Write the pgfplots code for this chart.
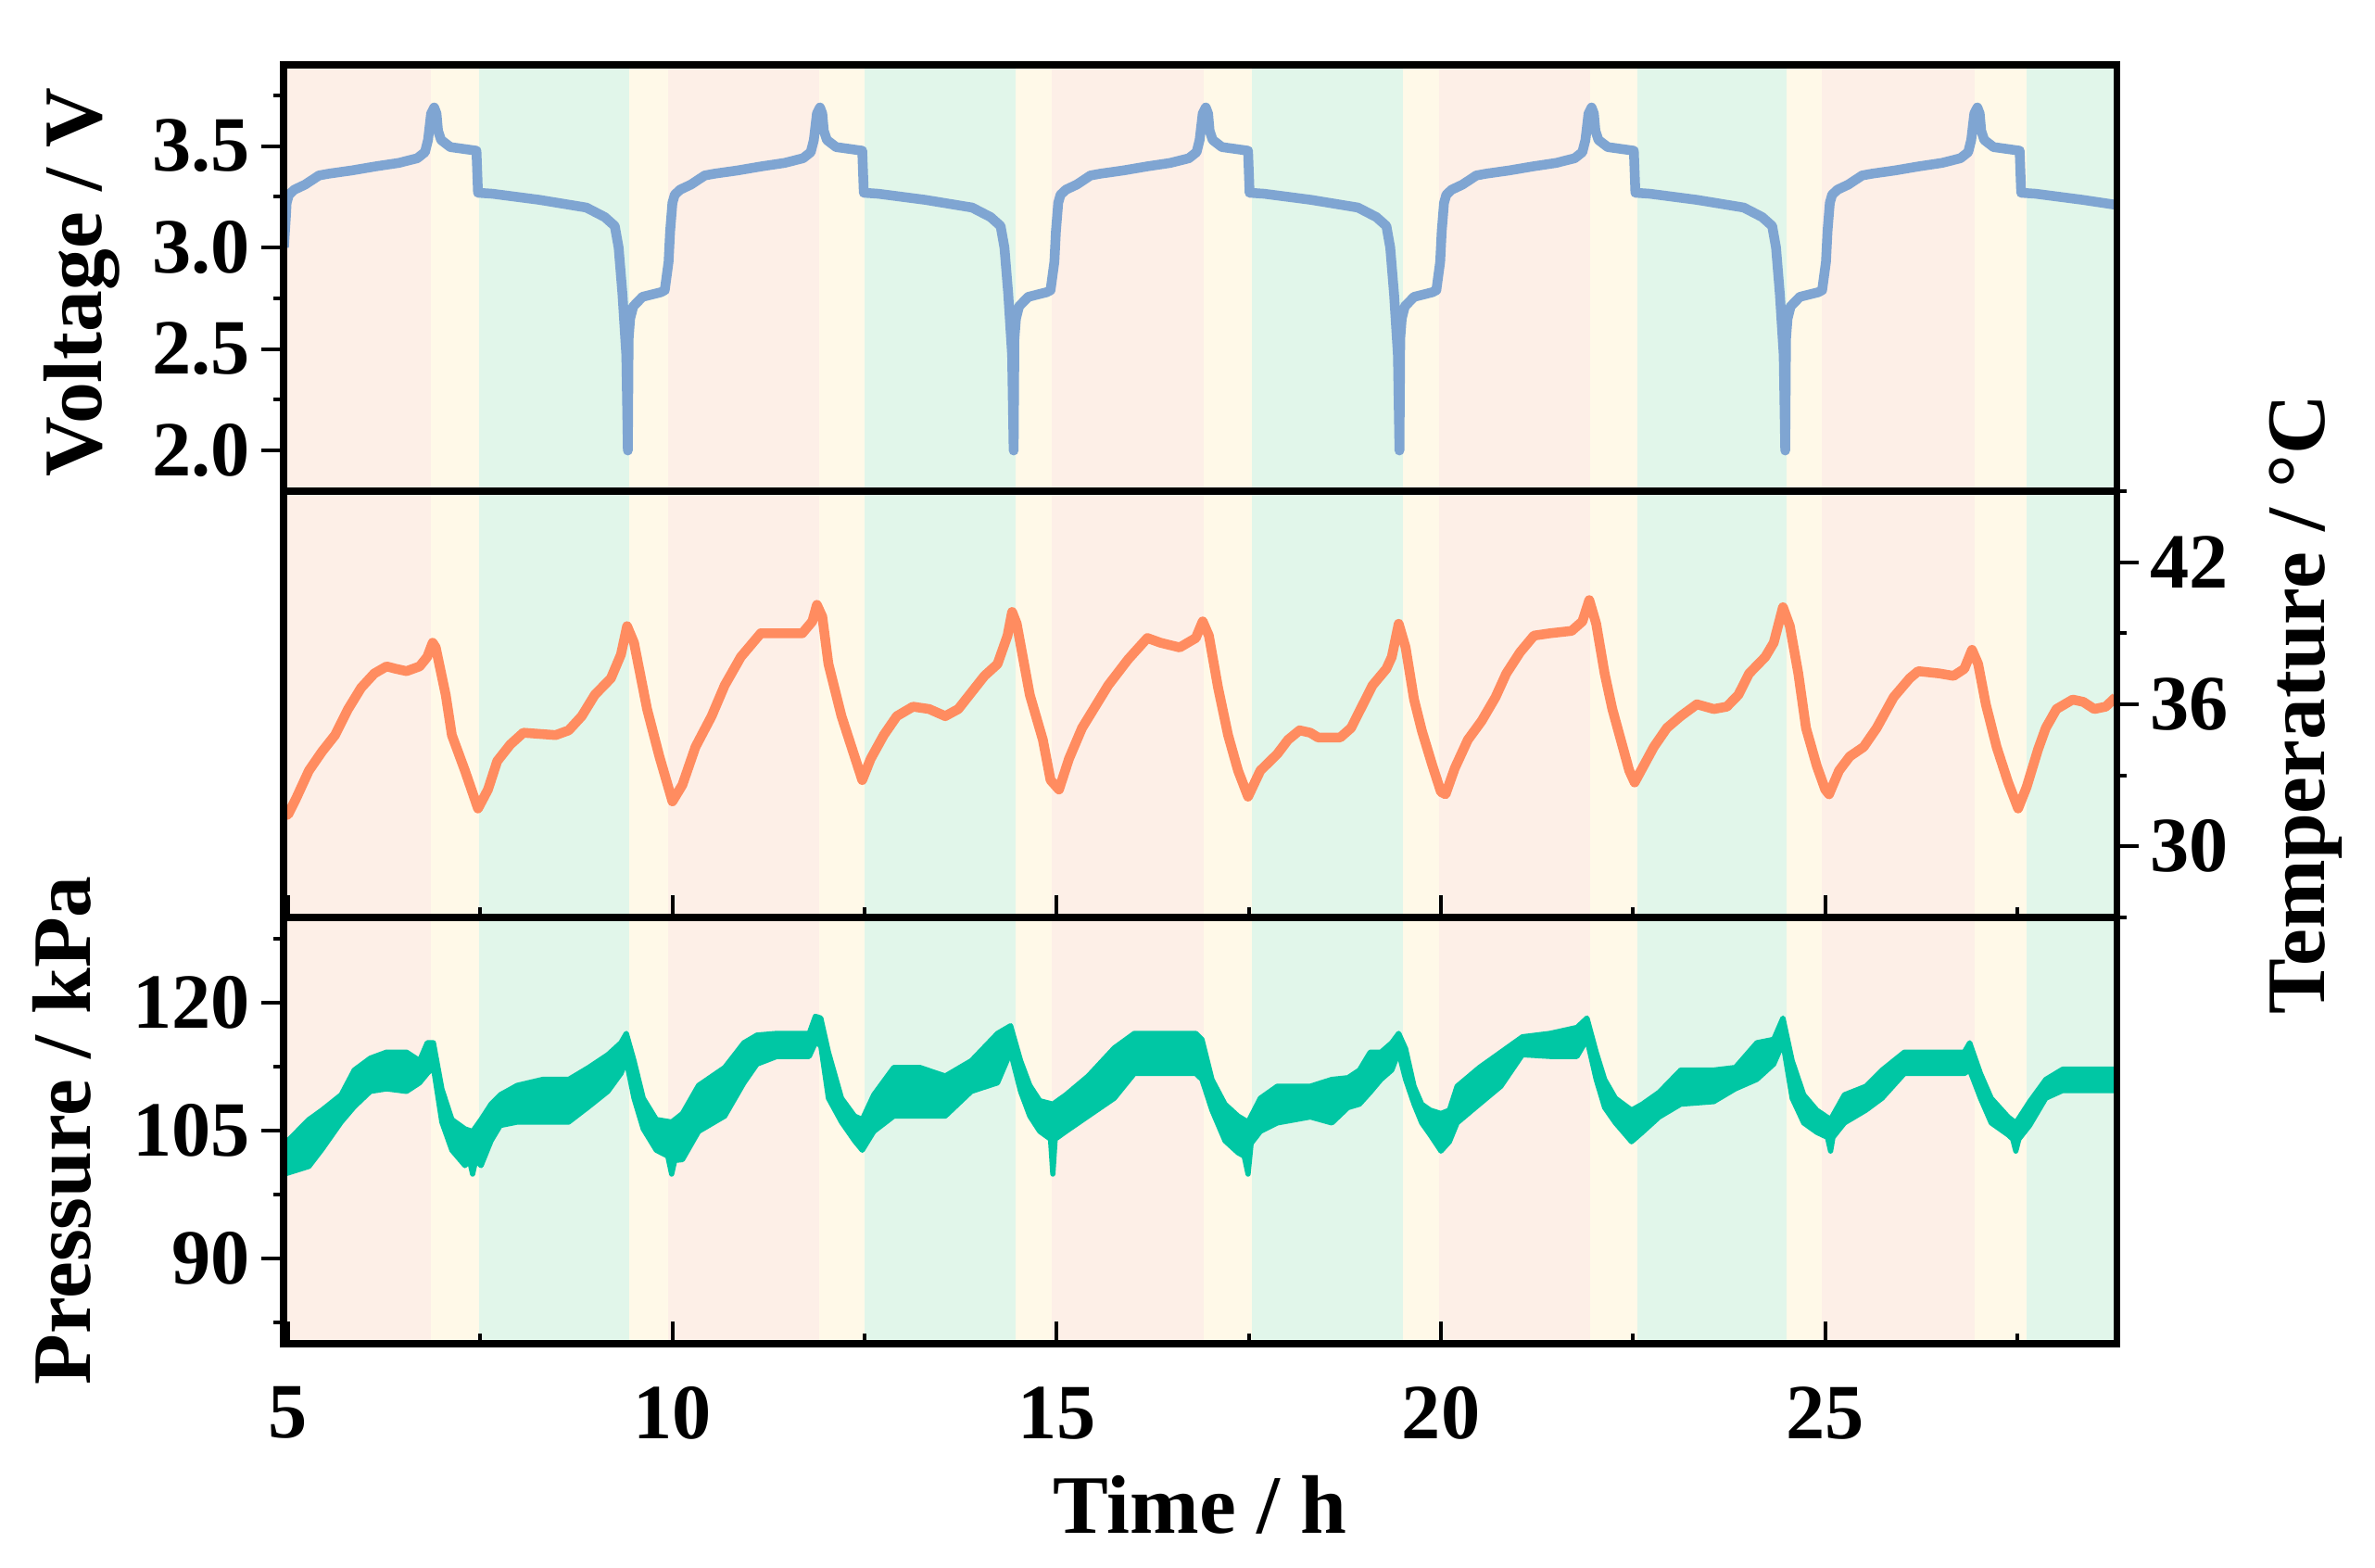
\documentclass[border=0pt]{standalone}
\usepackage{fontspec}
\setmainfont{Liberation Serif}
\usepackage{pgfplots}
\pgfplotsset{compat=1.18}

\definecolor{bgpink}{RGB}{253,239,231}
\definecolor{bgyel}{RGB}{255,249,232}
\definecolor{bggrn}{RGB}{225,246,234}
\definecolor{vblue}{RGB}{127,165,210}
\definecolor{torange}{RGB}{255,140,96}
\definecolor{pteal}{RGB}{0,199,164}

\newcommand{\band}[5]{\addplot[draw=none,fill=#5,forget plot] coordinates {(#1,#3) (#2,#3) (#2,#4) (#1,#4)} -- cycle;}
\newcommand{\allbands}[2]{%
 \band{4.90}{6.86}{#1}{#2}{bgpink}
 \band{6.86}{7.48}{#1}{#2}{bgyel}
 \band{7.48}{9.44}{#1}{#2}{bggrn}
 \band{9.44}{9.94}{#1}{#2}{bgyel}
 \band{9.94}{11.91}{#1}{#2}{bgpink}
 \band{11.91}{12.50}{#1}{#2}{bgyel}
 \band{12.50}{14.46}{#1}{#2}{bggrn}
 \band{14.46}{14.94}{#1}{#2}{bgyel}
 \band{14.94}{16.91}{#1}{#2}{bgpink}
 \band{16.91}{17.54}{#1}{#2}{bgyel}
 \band{17.54}{19.51}{#1}{#2}{bggrn}
 \band{19.51}{19.98}{#1}{#2}{bgyel}
 \band{19.98}{21.94}{#1}{#2}{bgpink}
 \band{21.94}{22.55}{#1}{#2}{bgyel}
 \band{22.55}{24.50}{#1}{#2}{bggrn}
 \band{24.50}{24.96}{#1}{#2}{bgyel}
 \band{24.96}{26.95}{#1}{#2}{bgpink}
 \band{26.95}{27.62}{#1}{#2}{bgyel}
 \band{27.62}{28.85}{#1}{#2}{bggrn}
}

\pgfplotsset{
 panel/.style={
   scale only axis, width=197.8mm, height=46mm,
   xmin=4.94, xmax=28.79,
   axis line style={line width=2pt},
   tick style={line width=1.1pt, black},
   major tick length=2.4mm, minor tick length=1.1mm,
   tick label style={font=\fontsize{24}{28}\selectfont\bfseries},
   label style={font=\fontsize{25.5}{30}\selectfont\bfseries},
   /pgf/number format/assume math mode=true,
   axis on top,
 }
}

\begin{document}
\begin{tikzpicture}
\path[use as bounding box] (0,0) rectangle (256.3mm,169.1mm);

% ---------------- Voltage ----------------
\begin{axis}[panel, at={(30.6mm,116.1mm)}, anchor=south west,
  ymin=1.8, ymax=3.9, ytick={2,2.5,3,3.5}, minor ytick={2.25,2.75,3.25,3.75},
  ytick pos=left, xtick=\empty, ytick align=outside,
  yticklabel style={/pgf/number format/.cd, fixed, fixed zerofill, precision=1},
  ylabel={Voltage / V},
  ylabel style={at={(axis description cs:-0.110,0.49)}, anchor=center}]
\allbands{1.8}{3.9}
\addplot[vblue, line width=3pt, line join=round] coordinates {
(4.945,3.00) (4.97,3.15) (4.98,3.22) (5.01,3.26) (5.08,3.285) (5.22,3.31) (5.40,3.355) (5.53,3.364) (5.83,3.38) (6.14,3.40) (6.44,3.417) (6.68,3.44) (6.78,3.47) (6.82,3.53) (6.86,3.66) (6.90,3.69) (6.93,3.66) (6.95,3.575) (6.99,3.53) (7.11,3.495) (7.30,3.485) (7.45,3.477) (7.47,3.27) (7.66,3.265) (8.27,3.235) (8.88,3.197) (9.12,3.15) (9.25,3.106) (9.30,3.00) (9.35,2.77) (9.40,2.47) (9.42,2.00) (9.43,2.55) (9.45,2.65) (9.49,2.71) (9.61,2.757) (9.85,2.78) (9.90,2.79)
(9.95,2.93) (9.97,3.08) (10.00,3.22) (10.03,3.26) (10.10,3.285) (10.24,3.31) (10.42,3.355) (10.55,3.364) (10.85,3.38) (11.16,3.40) (11.46,3.417) (11.70,3.44) (11.80,3.47) (11.84,3.53) (11.88,3.66) (11.92,3.69) (11.95,3.66) (11.97,3.575) (12.01,3.53) (12.13,3.495) (12.32,3.485) (12.47,3.477) (12.49,3.27) (12.68,3.265) (13.29,3.235) (13.90,3.197) (14.14,3.15) (14.27,3.106) (14.32,3.00) (14.37,2.77) (14.42,2.47) (14.44,2.00) (14.45,2.55) (14.47,2.65) (14.51,2.71) (14.63,2.757) (14.87,2.78) (14.92,2.79)
(14.97,2.93) (14.99,3.08) (15.02,3.22) (15.05,3.26) (15.12,3.285) (15.26,3.31) (15.44,3.355) (15.57,3.364) (15.87,3.38) (16.18,3.40) (16.48,3.417) (16.72,3.44) (16.82,3.47) (16.86,3.53) (16.90,3.66) (16.94,3.69) (16.97,3.66) (16.99,3.575) (17.03,3.53) (17.15,3.495) (17.34,3.485) (17.49,3.477) (17.51,3.27) (17.70,3.265) (18.31,3.235) (18.92,3.197) (19.16,3.15) (19.29,3.106) (19.34,3.00) (19.39,2.77) (19.44,2.47) (19.46,2.00) (19.47,2.55) (19.49,2.65) (19.53,2.71) (19.65,2.757) (19.89,2.78) (19.94,2.79)
(19.99,2.93) (20.01,3.08) (20.04,3.22) (20.07,3.26) (20.14,3.285) (20.28,3.31) (20.46,3.355) (20.59,3.364) (20.89,3.38) (21.20,3.40) (21.50,3.417) (21.74,3.44) (21.84,3.47) (21.88,3.53) (21.92,3.66) (21.96,3.69) (21.99,3.66) (22.01,3.575) (22.05,3.53) (22.17,3.495) (22.36,3.485) (22.51,3.477) (22.53,3.27) (22.72,3.265) (23.33,3.235) (23.94,3.197) (24.18,3.15) (24.31,3.106) (24.36,3.00) (24.41,2.77) (24.46,2.47) (24.48,2.00) (24.49,2.55) (24.51,2.65) (24.55,2.71) (24.67,2.757) (24.91,2.78) (24.96,2.79)
(25.01,2.93) (25.03,3.08) (25.06,3.22) (25.09,3.26) (25.16,3.285) (25.30,3.31) (25.48,3.355) (25.61,3.364) (25.91,3.38) (26.22,3.40) (26.52,3.417) (26.76,3.44) (26.86,3.47) (26.90,3.53) (26.94,3.66) (26.98,3.69) (27.01,3.66) (27.03,3.575) (27.07,3.53) (27.19,3.495) (27.38,3.485) (27.53,3.477) (27.55,3.27) (27.74,3.265) (28.35,3.235) (28.79,3.21)
};
\end{axis}

% ---------------- Temperature ----------------
\begin{axis}[panel, at={(30.6mm,70.1mm)}, anchor=south west,
  ymin=27, ymax=45, ytick={30,36,42}, minor ytick={27,33,39,45},
  ytick pos=right, yticklabel pos=right, ytick align=outside,
  xtick={5,10,15,20,25}, minor xtick={7.5,12.5,17.5,22.5,27.5},
  xtick pos=bottom, xticklabels={}, xtick align=inside,
  ylabel={Temperature / °C},
  ylabel style={at={(axis description cs:1.103,0.5)}, anchor=center}]
\allbands{27}{45}
\addplot[torange, line width=3pt, line join=round] coordinates {
(4.95,31.3) (5.0,31.35) (5.1,32.0) (5.27,33.2) (5.44,34.0) (5.61,34.7) (5.78,35.8) (5.95,36.7) (6.12,37.3) (6.28,37.6) (6.40,37.5) (6.54,37.4) (6.71,37.6) (6.81,38.0) (6.88,38.6) (6.92,38.4) (7.05,36.4) (7.13,34.7) (7.30,33.2) (7.47,31.6) (7.60,32.4) (7.72,33.6) (7.89,34.3) (8.06,34.8) (8.48,34.7) (8.65,34.9) (8.82,35.5) (8.99,36.4) (9.2,37.1) (9.33,38.1) (9.41,39.3) (9.5,38.6) (9.67,35.8) (9.83,33.8) (10.0,31.9) (10.13,32.6) (10.3,34.2) (10.51,35.5) (10.68,36.8) (10.89,38.0) (11.15,39.0) (11.36,39.0) (11.69,39.0) (11.82,39.5) (11.88,40.2) (11.95,39.7) (12.03,37.7) (12.2,35.5) (12.33,34.2) (12.47,32.8) (12.58,33.7) (12.75,34.7) (12.92,35.5) (13.13,35.9) (13.34,35.8) (13.55,35.5) (13.72,35.8) (13.89,36.5) (14.06,37.2) (14.23,37.7) (14.36,38.9) (14.42,39.9) (14.48,39.4) (14.65,36.4) (14.82,34.5) (14.92,32.8) (15.03,32.4) (15.16,33.7) (15.33,35.0) (15.5,35.9) (15.67,36.8) (15.93,37.9) (16.18,38.8) (16.35,38.6) (16.6,38.4) (16.81,38.8) (16.9,39.5) (16.98,38.9) (17.1,36.7) (17.23,34.7) (17.36,33.2) (17.49,32.1) (17.65,33.2) (17.87,33.9)
(18.01,34.5) (18.16,34.9) (18.3,34.8) (18.4,34.6) (18.69,34.6) (18.83,35.0) (18.97,35.9) (19.11,36.8) (19.29,37.5) (19.36,38.0) (19.45,39.4) (19.54,38.4) (19.65,36.2) (19.75,34.9) (19.89,33.4) (20.0,32.3) (20.06,32.2) (20.18,33.3) (20.35,34.5) (20.53,35.3) (20.71,36.3) (20.85,37.3) (21.03,38.2) (21.21,38.9) (21.42,39.0) (21.70,39.1) (21.84,39.5) (21.93,40.4) (22.02,39.4) (22.13,37.3) (22.23,35.8) (22.34,34.5) (22.45,33.2) (22.52,32.7) (22.62,33.3) (22.77,34.2) (22.94,35.0) (23.12,35.5) (23.33,36.0) (23.55,35.8) (23.72,35.9) (23.87,36.4) (24.01,37.3) (24.22,38.0) (24.33,38.6) (24.45,40.1) (24.54,39.3) (24.65,37.3) (24.75,35.0) (24.89,33.4) (25.0,32.4) (25.05,32.2) (25.18,33.2) (25.32,33.8) (25.5,34.2) (25.67,35.0) (25.89,36.3) (26.1,37.1) (26.21,37.4) (26.49,37.3) (26.67,37.2) (26.81,37.5) (26.91,38.3) (26.99,37.7) (27.09,36.0) (27.23,34.2) (27.38,32.7) (27.51,31.6) (27.62,32.5) (27.77,34.1) (27.87,35.0) (28.01,35.8) (28.22,36.2) (28.36,36.1) (28.5,35.8) (28.65,35.9) (28.78,36.3)
};
\end{axis}

% ---------------- Pressure ----------------
\begin{axis}[panel, at={(30.6mm,24.1mm)}, anchor=south west,
  ymin=80, ymax=130, ytick={90,105,120}, minor ytick={82.5,97.5,112.5,127.5},
  ytick pos=left, ytick align=outside,
  xtick={5,10,15,20,25}, minor xtick={7.5,12.5,17.5,22.5,27.5},
  xtick pos=bottom, xtick align=inside,
  xticklabel style={yshift=-3.4mm},
  xlabel={Time / h},
  xlabel style={at={(axis description cs:0.5,-0.4435)}, anchor=base},
  ylabel={Pressure / kPa},
  ylabel style={at={(axis description cs:-0.121,0.5)}, anchor=center}]
\allbands{80}{130}
\addplot[draw=pteal, fill=pteal, line width=1.6pt, line join=round] coordinates {
(4.95,103.4) (5.27,106.3) (5.44,107.4) (5.69,109.2) (5.86,112.1) (6.07,113.5) (6.28,114.2) (6.54,114.2) (6.71,113.2) (6.81,115.3) (6.89,115.3) (7.00,109.9) (7.13,106.3) (7.30,105.2) (7.40,104.9) (7.51,106.3) (7.64,108.1) (7.76,109.2) (7.98,110.3) (8.31,111.0) (8.65,111.0) (8.91,112.4) (9.16,113.9) (9.33,115.3) (9.40,116.4) (9.50,113.2) (9.62,108.8) (9.79,106.3) (9.99,106.0) (10.13,107.0) (10.34,110.3) (10.68,112.4) (10.93,115.3) (11.10,116.2) (11.36,116.4) (11.78,116.4) (11.86,118.4) (11.93,118.2) (12.03,114.2) (12.20,108.8) (12.37,106.7) (12.47,106.3) (12.62,109.2) (12.88,112.4) (13.22,112.4) (13.55,111.4) (13.89,113.2) (14.23,116.4) (14.40,117.3) (14.53,113.2) (14.65,110.3) (14.78,108.5) (14.95,108.1) (15.12,109.2) (15.41,111.4) (15.75,114.7) (16.01,116.4) (16.43,116.4) (16.81,116.4) (16.89,115.7) (17.02,111.0) (17.19,108.1) (17.36,106.7) (17.49,106.0) (17.65,108.8) (17.87,110.2) (18.30,110.2) (18.58,111.0) (18.79,111.2) (18.94,112.1) (19.08,114.2) (19.22,114.2) (19.36,115.3) (19.45,116.4) (19.54,114.6) (19.65,110.2) (19.75,108.1) (19.86,107.4) (20.00,107.0) (20.11,107.4) (20.21,110.2) (20.50,112.4) (20.78,114.2) (21.06,116.0) (21.42,116.4) (21.77,117.1) (21.90,118.2) (22.02,114.2) (22.13,111.0) (22.27,108.8) (22.48,107.4) (22.62,108.1) (22.84,109.5) (23.12,112.1) (23.55,112.1) (23.83,112.4) (24.11,115.3) (24.33,115.7) (24.45,118.2) (24.57,113.2) (24.72,109.2) (24.89,107.4) (25.07,106.3) (25.25,109.2) (25.53,110.2) (25.74,112.1) (26.03,114.2) (26.81,114.2) (26.88,115.3) (27.02,111.7) (27.16,108.8) (27.38,106.6) (27.48,105.9) (27.66,108.4) (27.87,111.0) (28.09,112.2) (28.79,112.2)
(28.79,109.7) (28.09,109.7) (27.87,108.8) (27.66,105.6) (27.52,104.0) (27.48,102.6) (27.44,104.0) (27.38,104.5) (27.16,105.9) (27.02,108.8) (26.88,112.1) (26.81,111.7) (26.03,111.7) (25.74,108.8) (25.53,107.4) (25.25,105.9) (25.10,104.2) (25.07,102.6) (25.03,104.2) (24.89,104.8) (24.72,105.9) (24.57,108.8) (24.45,115.3) (24.33,112.8) (24.11,111.0) (23.83,109.9) (23.55,108.4) (23.12,108.1) (22.84,106.6) (22.62,104.8) (22.48,103.7) (22.27,105.9) (22.13,107.7) (22.02,111.0) (21.90,115.7) (21.77,113.7) (21.42,113.7) (21.06,113.9) (20.78,110.2) (20.50,108.1) (20.21,105.9) (20.11,103.7) (20.00,102.6) (19.86,104.5) (19.75,105.9) (19.65,108.1) (19.54,111.0) (19.45,114.2) (19.36,112.1) (19.22,111.0) (19.08,109.5) (18.94,108.1) (18.79,107.7) (18.58,105.9) (18.30,106.6) (17.87,105.9) (17.65,104.9) (17.53,103.5) (17.49,99.9) (17.44,102.0) (17.36,102.4) (17.19,103.8) (17.02,107.4) (16.89,111.0) (16.81,111.7) (16.43,111.7) (16.01,111.7) (15.75,108.8) (15.41,106.7) (15.12,104.9) (14.98,104.0) (14.95,99.9) (14.92,104.0) (14.78,104.9) (14.65,106.7) (14.53,109.6) (14.40,114.2) (14.23,110.6) (13.89,109.6) (13.55,106.7) (13.22,106.7) (12.88,106.7) (12.62,104.9) (12.47,102.7) (12.37,103.8) (12.20,106.0) (12.03,108.8) (11.93,115.0) (11.86,115.3) (11.78,113.7) (11.36,113.7) (11.10,112.8) (10.93,110.6) (10.68,106.7) (10.34,104.9) (10.13,101.6) (10.03,101.5) (9.99,99.9) (9.94,102.0) (9.79,102.7) (9.62,105.2) (9.50,108.8) (9.40,113.2) (9.33,111.7) (9.16,109.6) (8.91,107.8) (8.65,106.0) (8.31,106.0) (7.98,106.0) (7.76,105.6) (7.64,103.8) (7.51,100.9) (7.44,101.5) (7.40,99.9) (7.36,101.5) (7.30,100.9) (7.13,102.7) (7.00,106.0) (6.89,112.4) (6.81,111.7) (6.71,110.6) (6.54,109.6) (6.28,109.9) (6.07,109.6) (5.86,107.8) (5.69,106.0) (5.44,102.8) (5.27,100.8) (4.95,99.9)
} -- cycle;
\end{axis}
\end{tikzpicture}
\end{document}
